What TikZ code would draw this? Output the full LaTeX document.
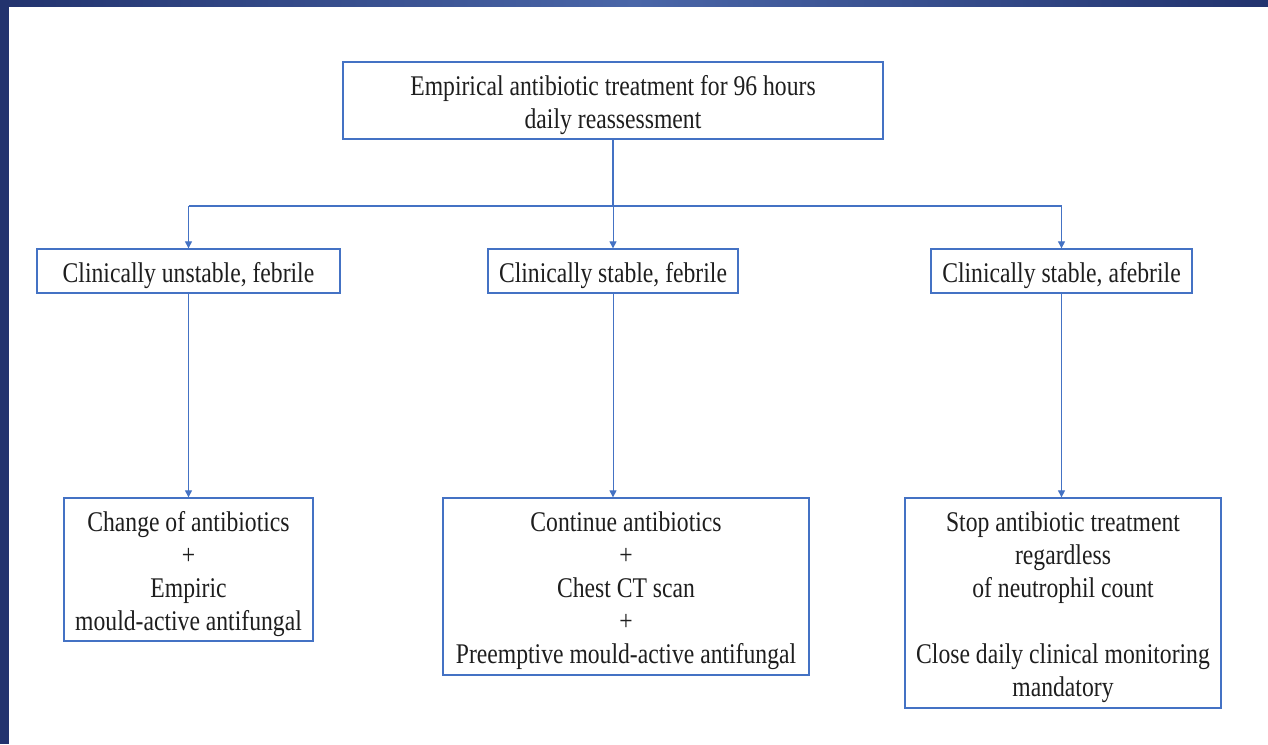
\documentclass[tikz,border=0pt]{standalone}
\usepackage{fontspec}
\setmainfont{Liberation Serif}
\newfontfamily\tallfont[FakeStretch=0.83]{Liberation Serif}
\usetikzlibrary{arrows.meta}
\definecolor{lineblue}{HTML}{4472C4}
\definecolor{navy}{HTML}{22336E}
\definecolor{midblue}{HTML}{4A66A8}
\definecolor{txt}{HTML}{1E1E1E}
\newcommand\hs{\rule{0pt}{30pt}}
\newcommand\ds{\rule[-8pt]{0pt}{8pt}}
\tikzset{
  box/.style={draw=lineblue, line width=1.3pt, fill=white, align=center, text=txt,
    inner sep=0pt, font=\tallfont\fontsize{28.5}{33}\selectfont},
  conn/.style={draw=lineblue, line width=1.2pt},
  arr/.style={draw=lineblue, line width=1.0pt, -{Triangle[length=7pt,width=7pt]}}
}
\begin{document}
\begin{tikzpicture}[x=1pt,y=-1pt]
\useasboundingbox (0,0) rectangle (1268,744);
\fill[white] (0,0) rectangle (1268,744);
% frame
\shade[left color=navy, right color=navy, middle color=midblue] (0,0) rectangle (1268,6);
\fill[navy] (0,0) rectangle (9,744);
% nodes
\node[box, minimum width=540pt, minimum height=77pt] (top) at (613,100.5)
  {\hs Empirical antibiotic treatment for 96 hours\\daily reassessment\ds};
\node[box, minimum width=303pt, minimum height=44pt] (a1) at (188.5,271)
  {\hs Clinically unstable, febrile\ds};
\node[box, minimum width=250pt, minimum height=44pt] (b1) at (613,271)
  {\hs Clinically stable, febrile\ds};
\node[box, minimum width=261pt, minimum height=44pt] (c1) at (1061.5,271)
  {\hs Clinically stable, afebrile\ds};
\node[box, minimum width=249pt, minimum height=143pt] (a2) at (188.5,569.5)
  {\hs Change of antibiotics\\+\\Empiric\\mould-active antifungal\ds};
\node[box, minimum width=366pt, minimum height=177pt] (b2) at (626,586.5)
  {\hs Continue antibiotics\\+\\Chest CT scan\\+\\Preemptive mould-active antifungal\ds};
\node[box, minimum width=316pt, minimum height=210pt] (c2) at (1063,603)
  {\hs Stop antibiotic treatment\\regardless\\of neutrophil count\\[33pt]Close daily clinical monitoring\\mandatory\ds};
% connectors
\coordinate (j) at (613,206);
\draw[conn] (top.south) -- (j);
\draw[conn] (j -| a1.north) -- (j -| c1.north);
\draw[arr] (j -| a1.north) -- (a1.north);
\draw[arr] (j) -- (b1.north);
\draw[arr] (j -| c1.north) -- (c1.north);
\draw[arr] (a1.south) -- (a1.south |- a2.north);
\draw[arr] (b1.south) -- (b1.south |- b2.north);
\draw[arr] (c1.south) -- (c1.south |- c2.north);
\end{tikzpicture}
\end{document}
